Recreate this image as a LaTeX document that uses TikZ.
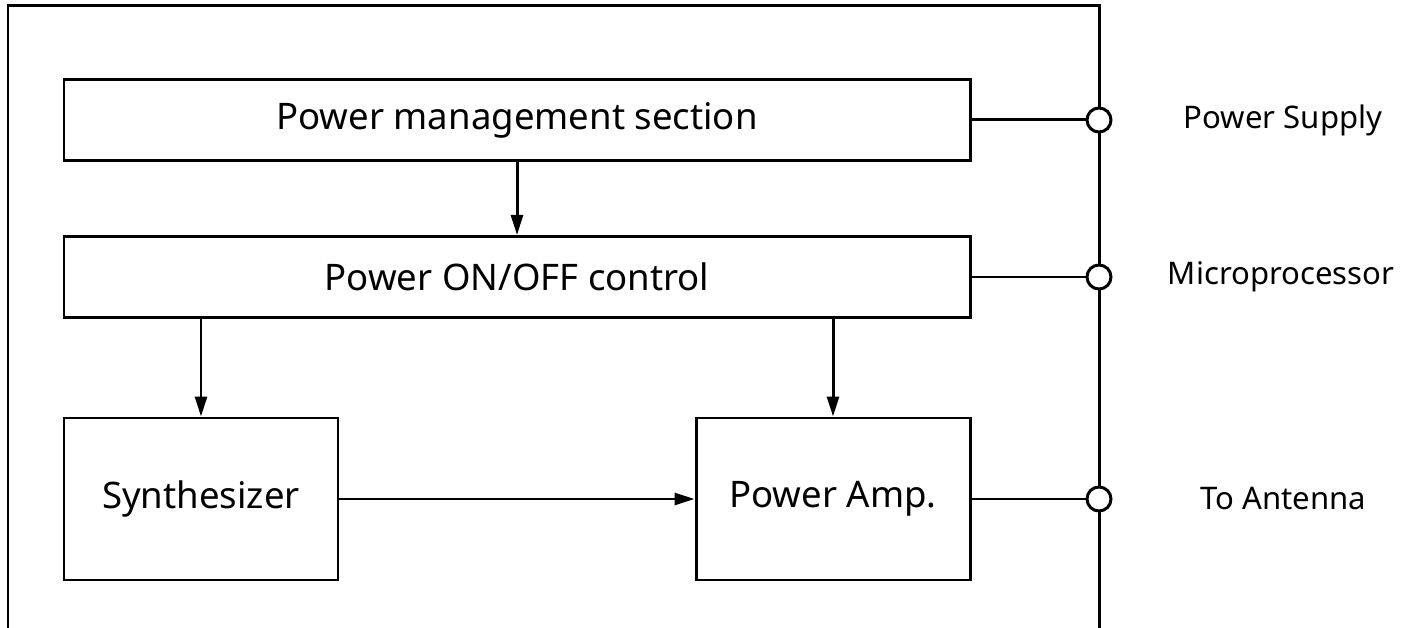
\documentclass[tikz,border=0pt]{standalone}
\usepackage{fontspec}
\setmainfont{Noto Sans}
\usetikzlibrary{arrows.meta}
\tikzset{
  block/.style={draw,line width=1.7pt,minimum height=1.62cm,font=\fontsize{20.8}{25}\selectfont},
  port/.style={draw,circle,line width=1.7pt,fill=white,inner sep=0pt,minimum size=0.48cm},
  portlabel/.style={font=\fontsize{17.7}{21}\selectfont},
  flow/.style={line width=1.7pt,-{Triangle[length=0.4cm,width=0.24cm]}}
}
\begin{document}
\begin{tikzpicture}[line width=1.7pt]
\useasboundingbox (0,0) rectangle (28.18,12.56);
\draw (0.16,0) -- (0.16,12.44) -- (21.98,12.44) -- (21.98,0);
\node[block,minimum width=18.12cm] (pms) at (10.34,10.16) {Power management section};
\node[block,minimum width=18.12cm] (onoff) at (10.34,7.02) {Power ON/OFF control};
\node[block,minimum width=5.48cm,minimum height=3.24cm] (synth) at (4.02,2.58) {Synthesizer};
\node[block,minimum width=5.48cm,minimum height=3.24cm] (amp) at (16.66,2.58) {Power Amp.};
\node[port] (supply) at (21.98,10.16) {};
\node[port] (micro) at (21.98,7.02) {};
\node[port] (ant) at (21.98,2.58) {};
\node[portlabel] (supplytxt) at (25.66,10.16) {Power Supply};
\node[portlabel] (microtxt) at (25.62,7.02) {Microprocessor};
\node[portlabel] (anttxt) at (25.66,2.58) {To Antenna};
\draw[flow] (pms.south) -- (onoff.north);
\draw[flow] (onoff.south -| synth.north) -- (synth.north);
\draw[flow] (onoff.south -| amp.north) -- (amp.north);
\draw[flow] (synth.east) -- (amp.west);
\draw (pms.east) -- (supply.west);
\draw (onoff.east) -- (micro.west);
\draw (amp.east) -- (ant.west);
\end{tikzpicture}
\end{document}
